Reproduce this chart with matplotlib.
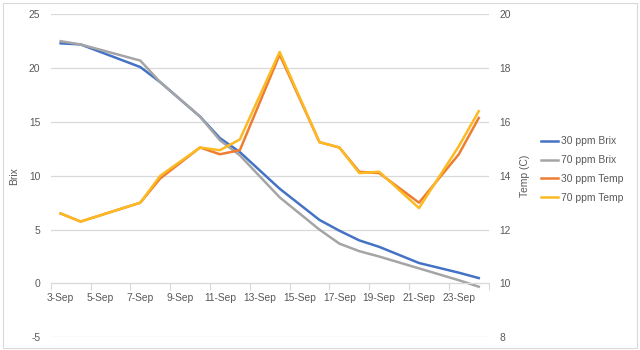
import matplotlib.pyplot as plt
from matplotlib.patches import Rectangle

plt.rcParams['font.family'] = ['Liberation Sans', 'DejaVu Sans']
plt.rcParams['axes.unicode_minus'] = False

# Sampling days in September
days = [3, 4, 7, 8, 10, 11, 12, 14, 16, 17, 18, 19, 21, 23, 24]

brix_30 = [22.3, 22.2, 20.1, 18.7, 15.5, 13.5, 12.2, 8.8, 5.9, 4.9, 4.0, 3.4, 1.9, 1.0, 0.5]
brix_70 = [22.5, 22.2, 20.7, 18.7, 15.5, 13.3, 11.9, 8.0, 5.0, 3.7, 3.0, 2.5, 1.4, 0.3, -0.3]
temp_30 = [12.6, 12.3, 13.0, 13.9, 15.05, 14.8, 14.95, 18.5, 15.25, 15.05, 14.15, 14.1, 13.0, 14.8, 16.15]
temp_70 = [12.6, 12.3, 13.0, 14.0, 15.05, 14.95, 15.35, 18.6, 15.25, 15.05, 14.1, 14.15, 12.8, 15.1, 16.4]

first_day, last_day = 3, 24
label_days = list(range(3, 24, 2))
tick_labels = [f'{d}-Sep' for d in label_days]

text_col = '#595959'
grid_col = '#d9d9d9'
fs = 7.4

fig = plt.figure(figsize=(6.4, 3.5), dpi=100)
fig.patches.append(Rectangle((0.004, 0.006), 0.992, 0.985, transform=fig.transFigure,
                             fill=False, edgecolor=grid_col, linewidth=0.8))

ax = fig.add_axes([0.0792, 0.0363, 0.6844, 0.9229])
ax2 = ax.twinx()

x = [d - first_day for d in days]
l1, = ax.plot(x, brix_30, color='#4472C4', lw=1.8, label='30 ppm Brix')
l2, = ax.plot(x, brix_70, color='#A5A5A5', lw=1.8, label='70 ppm Brix')
l3, = ax2.plot(x, temp_30, color='#ED7D31', lw=1.8, label='30 ppm Temp')
l4, = ax2.plot(x, temp_70, color='#FBBA22', lw=1.8, label='70 ppm Temp')

ax.set_xlim(-0.5, last_day - first_day + 0.5)
ax.set_ylim(-5, 25)
ax2.set_ylim(8, 20)
ax.set_yticks(range(-5, 26, 5))
ax2.set_yticks(range(8, 21, 2))
ax.grid(axis='y', color=grid_col, lw=0.9)
ax.set_axisbelow(True)

# x axis sits on Brix = 0, marks between every two days, labels centred on days
ax.spines['bottom'].set_position(('data', 0))
ax.spines['bottom'].set_color(grid_col)
for s in ['top', 'left', 'right']:
    ax.spines[s].set_visible(False)
for s in ['top', 'left', 'right', 'bottom']:
    ax2.spines[s].set_visible(False)

ax.set_xticks([t - 0.5 for t in range(0, last_day - first_day + 2, 2)])
ax.set_xticklabels([])
ax.tick_params(axis='x', which='major', length=5, color=grid_col, direction='out')
ax.set_xticks([d - first_day for d in label_days], minor=True)
ax.set_xticklabels(tick_labels, minor=True)
ax.tick_params(axis='x', which='minor', length=0, pad=7, labelsize=fs, labelcolor=text_col)

ax.tick_params(axis='y', length=0, pad=7.5, labelsize=fs, labelcolor=text_col)
ax2.tick_params(axis='y', length=0, pad=7.5, labelsize=fs, labelcolor=text_col)

ax.set_ylabel('Brix', fontsize=fs, color=text_col)
ax.yaxis.set_label_coords(-0.072, 0.5)
ax2.set_ylabel('Temp (C)', fontsize=fs, color=text_col)
ax2.yaxis.set_label_coords(1.0715, 0.5)

fig.legend(handles=[l1, l2, l3, l4], loc='upper left', bbox_to_anchor=(0.845, 0.61),
           frameon=False, fontsize=fs, labelcolor=text_col, handlelength=1.7,
           handletextpad=0.25, labelspacing=0.85, borderpad=0, borderaxespad=0)

fig.savefig('out.png', dpi=100)
